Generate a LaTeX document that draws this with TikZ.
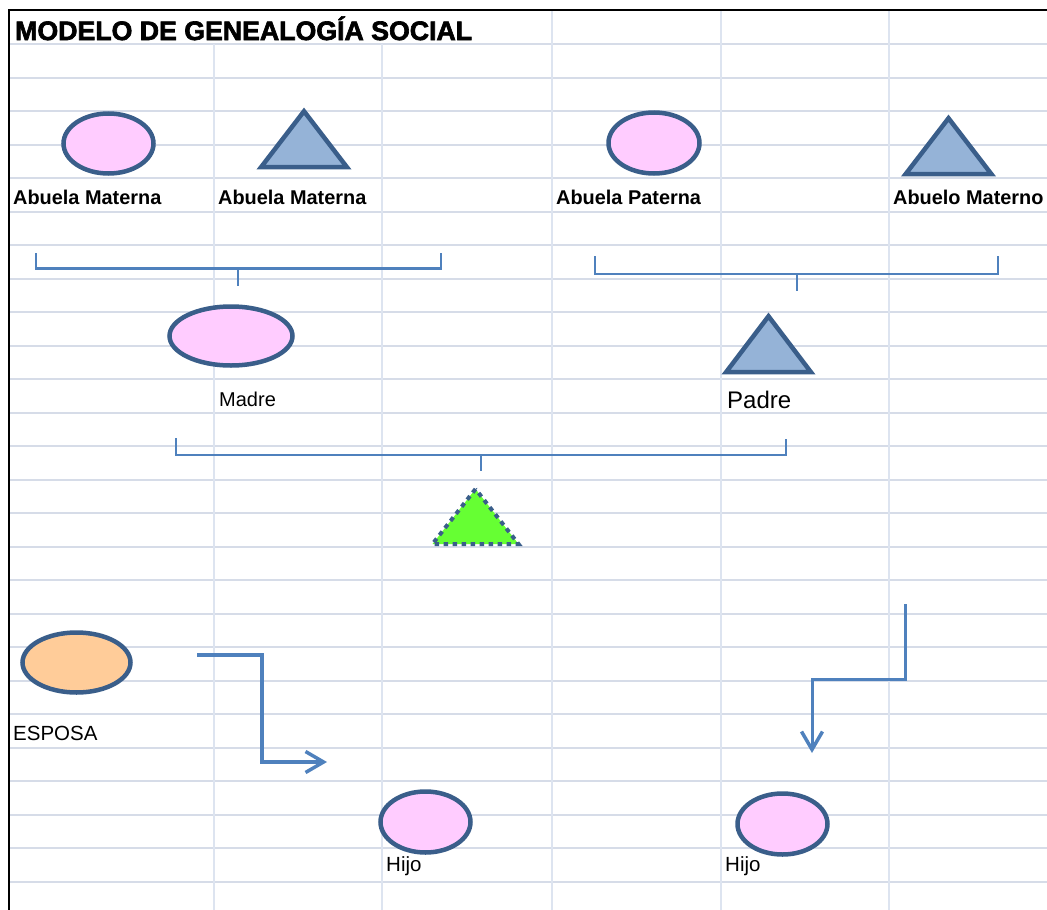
\documentclass[tikz,border=0pt]{standalone}
\usepackage{fontspec}
\setmainfont{Liberation Sans}
\newfontfamily\heavyfont[FakeBold=2.5]{Liberation Sans Bold}
\usetikzlibrary{shapes.geometric,arrows.meta}
\definecolor{gridc}{HTML}{D6DCE8}
\definecolor{gridv}{HTML}{DDE4F0}
\definecolor{edgec}{HTML}{3A5E8A}
\definecolor{pinkc}{HTML}{FFCCFF}
\definecolor{tric}{HTML}{95B3D7}
\definecolor{linkc}{HTML}{4F81BD}
\definecolor{greenc}{HTML}{66FF33}
\definecolor{orangec}{HTML}{FFCC99}
\tikzset{
  person/.style={ellipse, draw=edgec, line width=4.5pt, inner sep=0pt},
  woman/.style={person, fill=pinkc},
  man/.style={isosceles triangle, shape border rotate=90, isosceles triangle stretches,
    draw=edgec, fill=tric, line width=4.5pt, inner sep=0pt, anchor=south},
  child/.style={isosceles triangle, shape border rotate=90, isosceles triangle stretches,
    draw=edgec, fill=greenc, line width=4pt, dash pattern=on 4.5pt off 4.5pt, inner sep=0pt, anchor=south},
  lbl/.style={anchor=base west, inner sep=0pt, font=\fontsize{20.5pt}{24pt}\selectfont},
  blbl/.style={anchor=base west, inner sep=0pt, font=\fontsize{19.9pt}{24pt}\selectfont\bfseries},
  brack/.style={draw=linkc, line width=2.5pt},
  flow/.style={draw=linkc, line width=4pt, -{Straight Barb[length=18pt,width=21pt,line width=3.5pt]}},
}
\begin{document}
\begin{tikzpicture}[x=1pt,y=-1pt]
\useasboundingbox (0,0) rectangle (1047,910);
% spreadsheet grid
\foreach \k in {0,...,25} {\draw[gridc, line width=2pt] (9,44+33.5*\k) -- (1047,44+33.5*\k);}
\foreach \x in {214,382} {\draw[gridv, line width=1.6pt] (\x,44) -- (\x,910);}
\foreach \x in {552,721,889} {\draw[gridv, line width=1.6pt] (\x,10) -- (\x,910);}
\draw[black, line width=1.5pt] (1047,10) -- (9,10) -- (9,910);
% title
\node[anchor=base west, inner sep=0pt, font=\fontsize{26.7pt}{30pt}\heavyfont] (title) at (15,40) {MODELO DE GENEALOGÍA SOCIAL};
% grandparents
\node[woman, minimum width=90pt, minimum height=60pt] (am) at (108.5,143.5) {};
\node[man, minimum width=86pt, minimum height=56pt] (am2) at (304,169.5) {};
\node[woman, minimum width=91pt, minimum height=61pt] (ap) at (654,143) {};
\node[man, minimum width=86pt, minimum height=56pt] (ao) at (948.5,176.5) {};
\node[blbl] (lam) at (13,204) {Abuela Materna};
\node[blbl] (lam2) at (218,204) {Abuela Materna};
\node[blbl] (lap) at (556,204) {Abuela Paterna};
\node[blbl] (lao) at (893,204) {Abuelo Materno};
% brackets
\coordinate (b1l) at (36,253); \coordinate (b1r) at (441,253); \coordinate (b1t) at (238,286);
\draw[brack] (b1l) -- (36,268.5) -- (441,268.5) -- (b1r);
\draw[brack] (238,268.5) -- (b1t);
\coordinate (b2l) at (595,256); \coordinate (b2r) at (998,256); \coordinate (b2t) at (797,291);
\draw[brack] (b2l) -- (595,274) -- (998,274) -- (b2r);
\draw[brack] (797,274) -- (b2t);
% parents
\node[woman, minimum width=123pt, minimum height=59pt] (madre) at (231,336) {};
\node[man, minimum width=85pt, minimum height=56pt] (padre) at (768.5,374.5) {};
\node[lbl, font=\fontsize{20pt}{24pt}\selectfont] (lmadre) at (219,406) {Madre};
\node[lbl, font=\fontsize{24pt}{28pt}\selectfont] (lpadre) at (727,408) {Padre};
\coordinate (b3l) at (176,438); \coordinate (b3r) at (786,439); \coordinate (b3t) at (481,471);
\draw[brack] (b3l) -- (176,455) -- (786,455) -- (b3r);
\draw[brack] (481,455) -- (b3t);
% ego
\node[child, minimum width=86pt, minimum height=55pt] (ego) at (475.5,546) {};
% spouse
\node[person, fill=orangec, minimum width=108pt, minimum height=60pt] (esposa) at (76.5,662.5) {};
\node[lbl] (lesposa) at (13,740) {ESPOSA};
% arrows
\coordinate (a1s) at (197,655); \coordinate (a1e) at (327,762);
\draw[flow] (a1s) -- (262,655) -- (262,762) -- (a1e);
\coordinate (a2s) at (905,604); \coordinate (a2e) at (812,753);
\draw[flow, line width=3pt] (a2s) -- (905,679) -- (812,679) -- (a2e);
% children
\node[woman, minimum width=90pt, minimum height=61pt] (hijo1) at (425.5,822) {};
\node[woman, minimum width=90pt, minimum height=61pt] (hijo2) at (782.5,824) {};
\node[lbl] (lh1) at (386,871) {Hijo};
\node[lbl] (lh2) at (725,871) {Hijo};
\end{tikzpicture}
\end{document}
